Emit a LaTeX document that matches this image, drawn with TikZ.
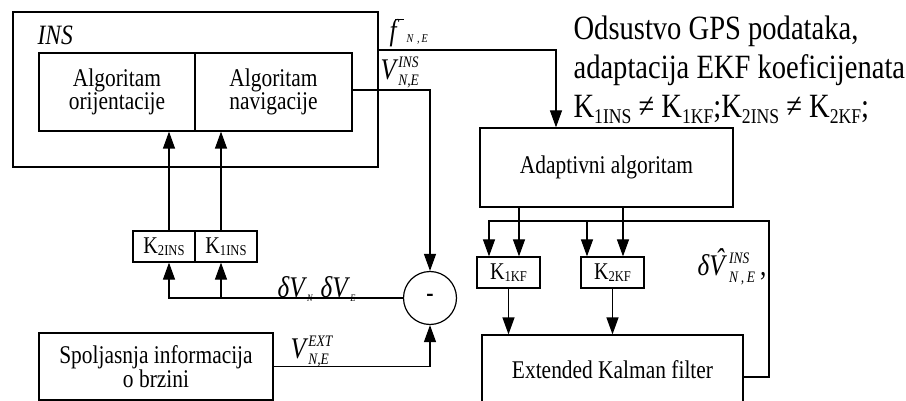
\documentclass[tikz,border=0pt]{standalone}
\usepackage{fontspec}
\setmainfont{Liberation Serif}[FakeStretch=0.84]
\usetikzlibrary{arrows.meta,calc}
\newcommand\scr{\fontsize{16}{16}\selectfont\itshape}
\newcommand\supsub[4]{\setbox0=\hbox{\scr #1}\setbox2=\hbox{\scr #2}%
  \ifdim\wd0>\wd2 \dimen0=\wd0\else\dimen0=\wd2\fi
  \rlap{\raisebox{#3}{\box0}}\rlap{\raisebox{#4}{\box2}}\hspace{\dimen0}}
\newcommand\Ksub[2]{K\raisebox{-2pt}{\fontsize{#2}{#2}\selectfont #1}}
\newcommand\Kr[1]{K\raisebox{-6pt}{\fontsize{21}{21}\selectfont #1}}
\begin{document}
\begin{tikzpicture}[x=1pt,y=-1pt,line width=1.2pt,
  box/.style={draw,rectangle,inner sep=0pt,align=center},
  kbox/.style={box,font=\fontsize{24}{24}\selectfont},
  txt/.style={font=\fontsize{25.5}{22}\selectfont},
  lab/.style={inner sep=0pt,anchor=base west},
  rt/.style={lab,font=\fontsize{34}{34}\selectfont},
  arr/.style={-{Triangle[length=17pt,width=12pt]}}]
\useasboundingbox (0,0) rectangle (906,401);
% INS block
\node[box,minimum width=365pt,minimum height=155pt] (ins) at (195.5,89.5) {};
\node[lab,font=\fontsize{28}{28}\selectfont\itshape] (inslab) at (37,45) {INS};
\node[box,txt,minimum width=156pt,minimum height=78pt] (ori) at (117,92) {Algoritam\\orijentacije};
\node[box,txt,minimum width=157pt,minimum height=78pt] (nav) at (273.5,92) {Algoritam\\navigacije};
% gains INS
\node[kbox,minimum width=62pt,minimum height=31pt] (k2ins) at (164,246.5) {\Ksub{2INS}{15}};
\node[kbox,minimum width=62pt,minimum height=31pt] (k1ins) at (226,246.5) {\Ksub{1INS}{15}};
% summing junction
\node[circle,draw,minimum size=53pt,inner sep=0pt,font=\fontsize{26}{26}\selectfont\bfseries] (sum) at (430,298) {-};
% external info
\node[box,font=\fontsize{25.5}{23}\selectfont,minimum width=234pt,minimum height=67pt] (ext) at (156,366.5) {Spoljasnja informacija\\o brzini};
% adaptive
\node[box,txt,minimum width=253pt,minimum height=79pt] (adapt) at (606.5,167.5) {Adaptivni algoritam};
\node[kbox,minimum width=63pt,minimum height=31pt] (k1kf) at (508.5,272.5) {\Ksub{1KF}{15}};
\node[kbox,minimum width=63pt,minimum height=31pt] (k2kf) at (612.5,272.5) {\Ksub{2KF}{15}};
\node[box,txt,minimum width=261pt,minimum height=70pt] (ekf) at (612.5,370) {Extended Kalman filter};
% right text
\node[rt] (t1) at (573,40) {Odsustvo GPS podataka,};
\node[rt] (t2) at (573,79) {adaptacija EKF koeficijenata};
\node[rt] (t3) at (573,118) {\Kr{1INS}\ ≠ \Kr{1KF};\Kr{2INS}\ ≠ \Kr{2KF};};
% coordinates
\coordinate (fy) at (0,50);
\coordinate (fbx) at (556,0);
\coordinate (fbx2) at (769,0);
\coordinate (fby) at (0,221);
% connectors
\draw[arr] (ins.east |- fy) -| (fbx |- adapt.north);
\draw[arr] ([yshift=2pt]nav.east) -| (sum.north);
\draw[arr] ([xshift=5pt]k2ins.north) -- ([xshift=5pt]k2ins.north |- ori.south);
\draw[arr] ([xshift=-5pt]k1ins.north) -- ([xshift=-5pt]k1ins.north |- ori.south);
\draw[arr] (sum.west) -| ([xshift=5pt]k2ins.south);
\draw[arr] ([xshift=-5pt]k1ins.south |- sum.west) -- ([xshift=-5pt]k1ins.south);
\draw[arr] (ext.east) -| (sum.south);
\draw[arr] ([xshift=10.5pt]adapt.south -| k1kf.north) -- ([xshift=10.5pt]k1kf.north);
\draw[arr] ([xshift=10.5pt]adapt.south -| k2kf.north) -- ([xshift=10.5pt]k2kf.north);
\draw[arr] ([yshift=-7pt]ekf.east) -| (fbx2 |- fby) -| ([xshift=-19.5pt]k1kf.north);
\draw[arr] ([xshift=-25.5pt]k2kf.north |- fby) -- ([xshift=-25.5pt]k2kf.north);
\draw[arr] (k1kf.south) -- (k1kf.south |- ekf.north);
\draw[arr] (k2kf.south) -- (k2kf.south |- ekf.north);
% labels
\node[lab,font=\fontsize{30}{30}\selectfont] (lf) at (389,41) {\makebox[0pt][l]{\hspace{5.5pt}\raisebox{21pt}{\rule{9pt}{1pt}}}\textit{f}\hspace{7pt}\raisebox{-2pt}{\fontsize{12}{12}\selectfont\itshape N\,\,,\,E}};
\node[lab,font=\fontsize{30}{30}\selectfont] (lvins) at (380,80) {\textit{V}\supsub{INS}{N,E}{12pt}{-6pt}};
\node[lab,font=\fontsize{30}{30}\selectfont] (ldv) at (277,297) {\textit{δV}\raisebox{-5pt}{\fontsize{10}{10}\selectfont\itshape N}\hspace{8pt}\textit{δV}\raisebox{-5pt}{\fontsize{10}{10}\selectfont\itshape E}};
\node[lab,font=\fontsize{30}{30}\selectfont] (lvext) at (290,358) {\textit{V}\supsub{EXT}{N,E}{12pt}{-6pt}};
\node[lab,font=\fontsize{30}{30}\selectfont] (ldvh) at (697,276) {\textit{δ\makebox[0pt][l]{\hspace{6pt}\raisebox{6pt}{ˆ}}V}\hspace{2pt}\supsub{INS}{N\,,\,E}{13pt}{-7pt}\,,};
\end{tikzpicture}
\end{document}
